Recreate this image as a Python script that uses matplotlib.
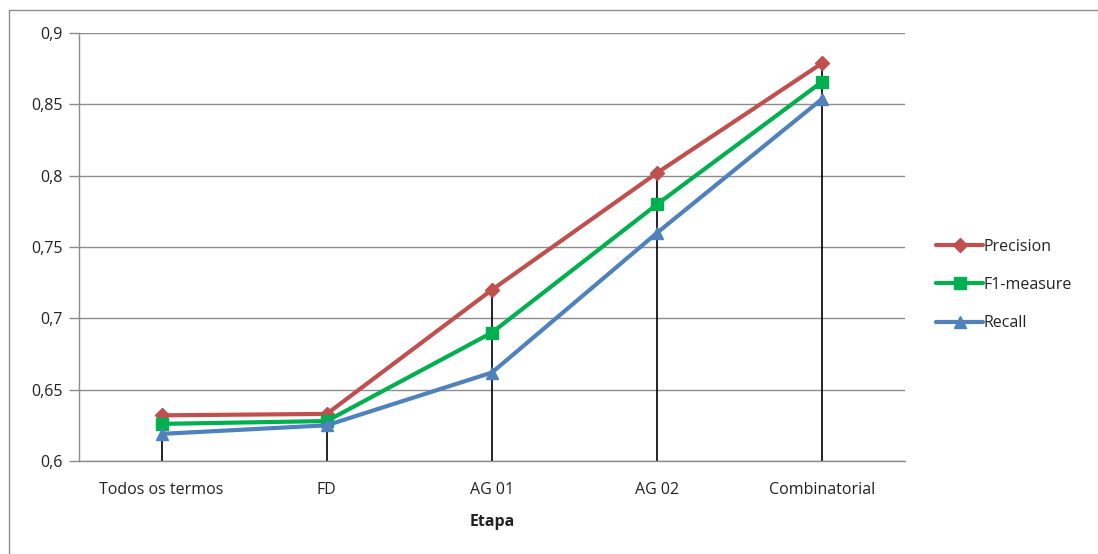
import matplotlib
matplotlib.use("Agg")
import matplotlib.pyplot as plt
from matplotlib.patches import Rectangle
from matplotlib.ticker import FuncFormatter, MultipleLocator

plt.rcParams['font.family'] = ['Open Sans', 'DejaVu Sans']

stages = ["Todos os termos", "FD", "AG 01", "AG 02", "Combinatorial"]
precision = [0.632, 0.633, 0.720, 0.802, 0.879]
f1_measure = [0.626, 0.628, 0.690, 0.780, 0.866]
recall = [0.619, 0.625, 0.662, 0.760, 0.854]

series = [
    ("Precision", precision, "#C0504D", "D", 7),
    ("F1-measure", f1_measure, "#00B050", "s", 9),
    ("Recall", recall, "#4F81BD", "^", 9),
]

FS = 11.5
TXT = "#222222"

fig = plt.figure(figsize=(10.98, 5.54), dpi=100)
ax = fig.add_axes([0.0719, 0.1679, 0.7523, 0.7725])

x = list(range(len(stages)))

# drop lines from the top series down to the axis
tops = [max(vals) for vals in zip(precision, f1_measure, recall)]
ax.vlines(x, 0.6, tops, colors="black", linewidth=1.2, zorder=2)

handles = []
for name, vals, color, marker, ms in series:
    h, = ax.plot(x, vals, color=color, linewidth=3, marker=marker, markersize=ms,
                 label=name, zorder=3, solid_capstyle="round")
    handles.append(h)

ax.set_xlim(-0.5, len(stages) - 0.5)
ax.set_ylim(0.6, 0.9)
ax.yaxis.set_major_locator(MultipleLocator(0.05))
ax.yaxis.set_major_formatter(
    FuncFormatter(lambda v, p: f"{v:.2f}".rstrip("0").rstrip(".").replace(".", ",")))
ax.set_xticks(x)
ax.set_xticklabels(stages, fontsize=FS, color=TXT)
ax.tick_params(axis="x", length=0, pad=15)
ax.tick_params(axis="y", length=7, width=1, color="#8c8c8c", labelsize=FS,
               labelcolor=TXT, pad=5)
ax.grid(axis="y", color="#8c8c8c", linewidth=1)
ax.set_axisbelow(True)
for side in ["top", "right"]:
    ax.spines[side].set_visible(False)
for side in ["left", "bottom"]:
    ax.spines[side].set_color("#8c8c8c")
    ax.spines[side].set_linewidth(1)

ax.set_xlabel("Etapa", fontsize=FS, fontweight="bold", color=TXT, labelpad=12)

leg = fig.legend(handles=handles, loc="center left",
                 bbox_to_anchor=(930 / 1098, 1 - 285 / 554), frameon=False,
                 fontsize=FS, handlelength=2.9, labelspacing=1.4,
                 handletextpad=0.05, borderaxespad=0)
for t in leg.get_texts():
    t.set_color(TXT)

# chart area border
fig.patches.append(Rectangle((9 / 1098, -0.1), 1.2, 1 - 10 / 554 + 0.1,
                             transform=fig.transFigure, fill=False,
                             edgecolor="#8c8c8c", linewidth=1))

fig.savefig("out.png", dpi=100)
